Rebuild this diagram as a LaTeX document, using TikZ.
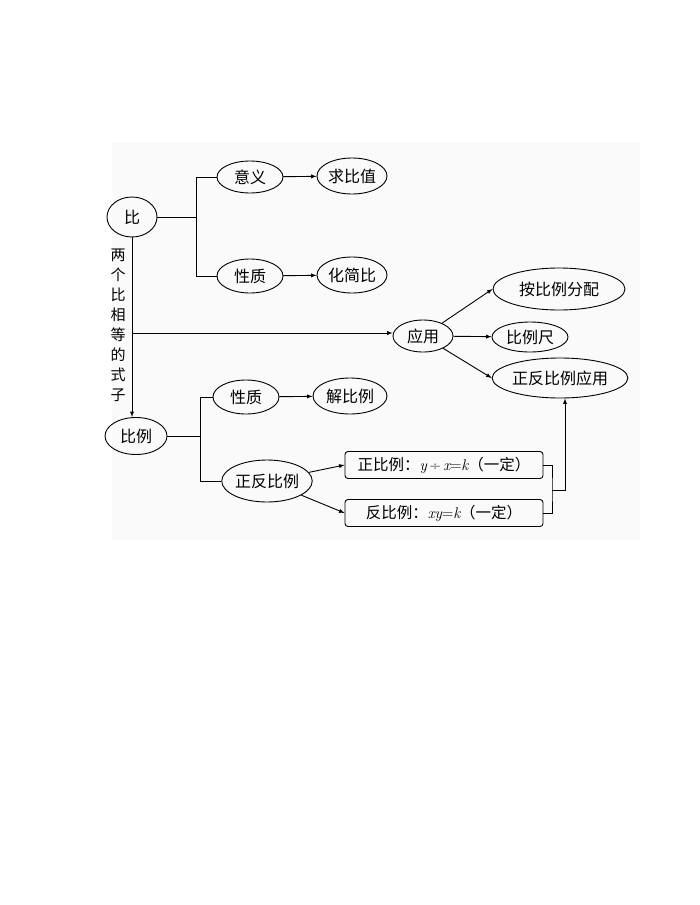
\documentclass[tikz,border=0pt]{standalone}
\usepackage{fontspec}
\newfontfamily\cjk{Noto Sans CJK SC}
\usepackage{tikz}
\usetikzlibrary{arrows}
\usetikzlibrary{shapes.geometric}
\newcommand{\vb}[1]{{\rmfamily\itshape #1}}

\begin{document}
\begin{tikzpicture}[x=1pt,y=-1pt,line width=0.9pt,>=latex,
    oval/.style={draw,ellipse,inner sep=0pt,font=\cjk\fontsize{16}{18}\selectfont},
    formbox/.style={draw,rounded corners=3pt,minimum width=198pt,minimum height=27pt,inner sep=0pt,font=\cjk\fontsize{15.5}{18}\selectfont}]
      \useasboundingbox (0,0) rectangle (700,905);
      \fill[black!2] (112,142) rectangle (640,540);
      \node[oval,minimum width=50pt,minimum height=40pt] (bi) at (132,217) {比};
      \node[oval,minimum width=66pt,minimum height=32pt] (yiyi) at (250,177) {意义};
      \node[oval,minimum width=70pt,minimum height=36pt] (qiubizhi) at (352,176) {求比值};
      \node[oval,minimum width=66pt,minimum height=34pt] (xingzhiA) at (250,276) {性质};
      \node[oval,minimum width=70pt,minimum height=36pt] (huajianbi) at (352,275) {化简比};
      \node[oval,minimum width=60pt,minimum height=32pt] (yingyong) at (423,336) {应用};
      \node[oval,minimum width=132pt,minimum height=42pt] (anbili) at (559,289) {按比例分配};
      \node[oval,minimum width=76pt,minimum height=30pt] (bilichi) at (530,337) {比例尺};
      \node[oval,minimum width=134pt,minimum height=40pt] (zfyingyong) at (560,378) {正反比例应用};
      \node[oval,minimum width=62pt,minimum height=37pt] (bili) at (136,436) {比例};
      \node[oval,minimum width=66pt,minimum height=34pt] (xingzhiB) at (246,397) {性质};
      \node[oval,minimum width=74pt,minimum height=36pt] (jiebili) at (350,396) {解比例};
      \node[oval,minimum width=90pt,minimum height=42pt] (zhengfan) at (267,481) {正反比例};
      \node[formbox] (zhengbox) at (444,465) {正比例：\vb{y}\,{\rmfamily ÷}\,\vb{x}{\rmfamily =}\vb{k}（一定）};
      \node[formbox] (fanbox) at (444,513) {反比例：\vb{xy}{\rmfamily =}\vb{k}（一定）};
      \node[font=\cjk\fontsize{15}{20}\selectfont,align=center,inner sep=0pt] (dengshi) at (118,325) {两\\个\\比\\相\\等\\的\\式\\子};
      \coordinate (bj) at (196,217);
      \coordinate (bj2) at (200,436);
      \coordinate (yy) at (132,333);
      \coordinate (rj) at (552,490);
      \coordinate (rk) at (565,490);
      \draw (bi) -- (bj);
      \draw (yiyi.west) -| (bj);
      \draw (xingzhiA.west) -| (bj);
      \draw[->] (yiyi) -- (qiubizhi);
      \draw[->] (xingzhiA) -- (huajianbi);
      \draw[->] (bi.south) -- (bi.south |- bili.north);
      \draw[->] (yy) -- (yy -| yingyong.west);
      \draw[->] (yingyong) -- (anbili.west);
      \draw[->] (yingyong) -- (bilichi);
      \draw[->] (yingyong) -- (zfyingyong.west);
      \draw (bili) -- (bj2);
      \draw (xingzhiB.west) -| (bj2);
      \draw (zhengfan.west) -| (bj2);
      \draw[->] (xingzhiB) -- (jiebili);
      \draw[->] (zhengfan) -- (zhengbox.west);
      \draw[->] (zhengfan) -- (fanbox.west);
      \draw (zhengbox.east) -| (rj) |- (fanbox.east);
      \draw[->] (rj) -- (rk) -- (rk |- zfyingyong.south);
    \end{tikzpicture}
\end{document}
